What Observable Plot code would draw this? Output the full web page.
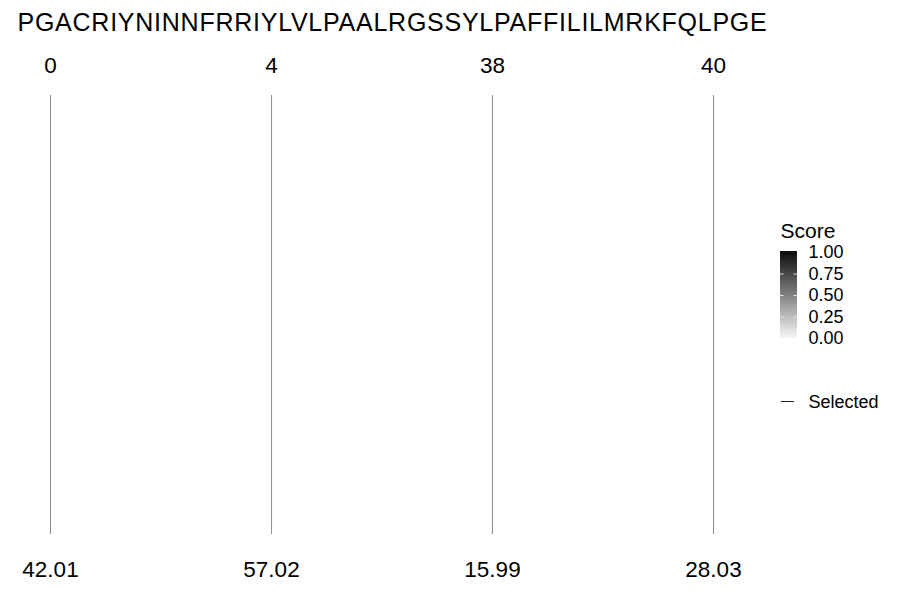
<!DOCTYPE html>
<html>
<head>
<meta charset="utf-8">
<script src="https://cdn.jsdelivr.net/npm/d3@7"></script>
<script src="https://cdn.jsdelivr.net/npm/@observablehq/plot@0.6"></script>
<style>
  html, body { margin: 0; padding: 0; background: #fff; }
  #wrap { position: relative; width: 900px; height: 600px; font-family: "Liberation Sans", Arial, Helvetica, sans-serif; }
  #legend { position: absolute; left: 760px; top: 210px; }
</style>
</head>
<body>
<div id="wrap"><div id="main"></div><div id="legend"></div></div>
<script>
// ---- data ----
const sequence = "PGACRIYNINNFRRIYLVLPAALRGSSYLPAFFILILMRKFQLPGE";
const positions = [0, 4, 38, 40];
const scores = [42.01, 57.02, 15.99, 28.03];
const legendTicks = [0, 0.25, 0.5, 0.75, 1];
const legendTitle = "Score";
const selectedLabel = "Selected";

const rows = positions.map((p, i) => ({pos: p, score: scores[i]}));
const font = "Liberation Sans, Arial, Helvetica, sans-serif";

const main = Plot.plot({
  width: 900,
  height: 600,
  marginLeft: 49,
  marginRight: 187,
  marginTop: 95,
  marginBottom: 66,
  style: {fontFamily: font, background: "white", color: "black"},
  x: {type: "point", domain: positions, padding: 0, axis: null},
  y: {domain: [0, 1], axis: null},
  marks: [
    Plot.ruleX(rows, {x: "pos", stroke: "#939393", strokeWidth: 1.1}),
    Plot.text([sequence], {text: d => d, frameAnchor: "top-left", textAnchor: "start", lineAnchor: "middle", dx: -32, dy: -73, fontSize: 25, fill: "black"}),
    Plot.text(rows, {x: "pos", text: d => String(d.pos), frameAnchor: "top", lineAnchor: "middle", dy: -30, fontSize: 22.5, fill: "black"}),
    Plot.text(rows, {x: "pos", text: d => d.score.toFixed(2), frameAnchor: "bottom", lineAnchor: "middle", dy: 35, fontSize: 22.5, fill: "black"})
  ]
});
// widen the sequence title slightly to match the reference's letter spacing
d3.select(main).selectAll("text").filter(function() { return this.textContent === sequence; })
  .attr("letter-spacing", "0.75px");
document.getElementById("main").appendChild(main);

// legend (gradient colour bar)
const cells = d3.range(0, 100).map(i => i / 100);
const legend = Plot.plot({
  width: 140,
  height: 210,
  marginLeft: 20,
  marginRight: 103,
  marginTop: 42,
  marginBottom: 82,
  style: {fontFamily: font, background: "transparent", color: "black", overflow: "visible"},
  x: {domain: [0, 1], axis: null},
  y: {domain: [0, 1], axis: null},
  color: {type: "linear", domain: [0, 1], range: ["#f7f7f7", "#0d0d0d"]},
  marks: [
    Plot.rect(cells, {x1: 0, x2: 1, y1: d => d, y2: d => d + 0.025, fill: d => d + 0.005, shapeRendering: "crispEdges"}),
    Plot.tickY(legendTicks.slice(1, -1), {y: d => d, stroke: "#dddddd", strokeWidth: 1, insetRight: 13.5}),
    Plot.tickY(legendTicks.slice(1, -1), {y: d => d, stroke: "#dddddd", strokeWidth: 1, insetLeft: 13.5}),
    Plot.text(legendTicks, {y: d => d, text: d => d.toFixed(2), frameAnchor: "right", textAnchor: "start", lineAnchor: "middle", dx: 11, fontSize: 18, fill: "black"}),
    Plot.text([legendTitle], {text: d => d, frameAnchor: "top-left", textAnchor: "start", lineAnchor: "middle", dy: -21, fontSize: 21, fill: "black"}),
    Plot.tickY([0], {y: d => d, dy: 63, insetLeft: 1, insetRight: 3, stroke: "#222", strokeWidth: 1}),
    Plot.text([selectedLabel], {y: () => 0, text: d => d, frameAnchor: "right", textAnchor: "start", lineAnchor: "middle", dx: 11, dy: 64, fontSize: 18, fill: "black"})
  ]
});
document.getElementById("legend").appendChild(legend);
</script>
</body>
</html>
